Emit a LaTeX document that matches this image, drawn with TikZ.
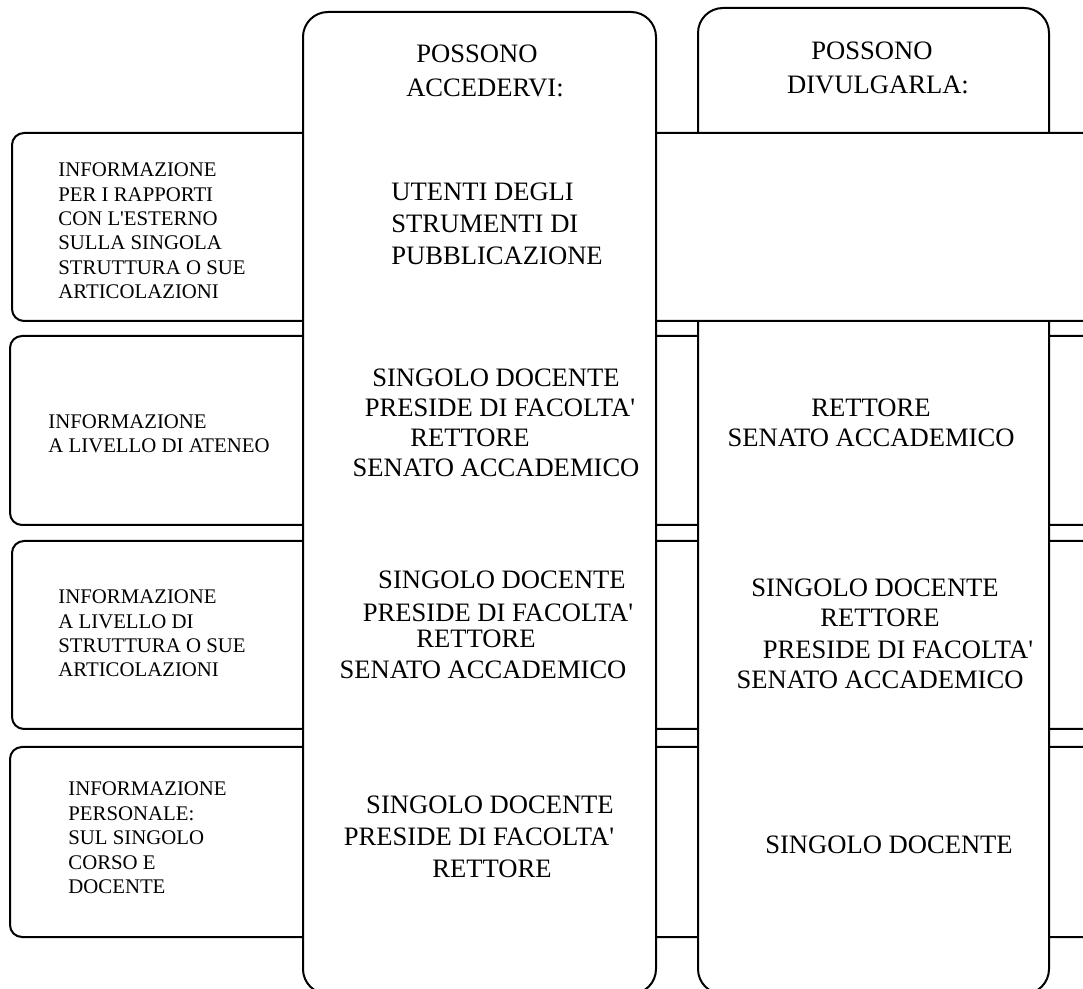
\documentclass[tikz,border=0pt]{standalone}
\usepackage{fontspec}
\setmainfont[Ligatures=TeXOff]{Liberation Serif}
\begin{document}
\begin{tikzpicture}[x=0.5pt,y=-0.5pt,
		box/.style={draw,line width=1pt,fill=white,rounded corners=6pt},
		colbox/.style={box,rounded corners=12.5pt},
		lbl/.style={font=\fontsize{10.4}{12.2}\selectfont,align=left,anchor=west,inner sep=0pt},
		txt/.style={font=\fontsize{13.3}{15}\selectfont,align=center,inner sep=0pt}]
		\useasboundingbox (0,0) rectangle (1083,989);
		\clip (0,0) rectangle (1083,989);
		% rows under the second column
		\draw[box](10,336) rectangle (1120,525);
		\draw[box](12,541) rectangle (1120,729);
		\draw[box](10,747) rectangle (1120,937);
		\draw[colbox](698,8) rectangle (1049,994);
		% first row over the second column
		\draw[box](12,133) rectangle (1120,321);
		\draw[colbox](303,12) rectangle (656,994);
		% row labels
		\node[lbl] (lblEst) at (58,231) {INFORMAZIONE\\PER I RAPPORTI\\CON L'ESTERNO\\SULLA SINGOLA\\STRUTTURA O SUE\\ARTICOLAZIONI};
		\node[lbl] (lblAteneo) at (48,433.5) {INFORMAZIONE\\A LIVELLO DI ATENEO};
		\node[lbl] (lblStrutt) at (58,633.5) {INFORMAZIONE\\A LIVELLO DI\\STRUTTURA O SUE\\ARTICOLAZIONI};
		\node[lbl] (lblPers) at (68,838) {INFORMAZIONE\\PERSONALE:\\SUL SINGOLO\\CORSO E\\DOCENTE};
		% who can access
		\node[txt] (acc0) at (485,71) {\mbox{POSSONO\hspace{8pt}}\\[2pt]ACCEDERVI:};
		\node[txt,align=left,anchor=west] (acc1) at (391,224) {UTENTI DEGLI\\[1pt]STRUMENTI DI\\[1pt]PUBBLICAZIONE};
		\node[txt] (acc2) at (496,422.5) {SINGOLO DOCENTE\\\mbox{\hspace{4pt}PRESIDE DI FACOLTA'}\\\mbox{RETTORE\hspace{26pt}}\\SENATO ACCADEMICO};
		\node[txt] (acc3) at (490,625) {\mbox{\hspace{12pt}SINGOLO DOCENTE}\\[1.5pt]\mbox{\hspace{8pt}PRESIDE DI FACOLTA'}\\[-2pt]\mbox{RETTORE\hspace{14pt}}\\[0.5pt]\mbox{SENATO ACCADEMICO\hspace{7pt}}};
		\node[txt] (acc4) at (487,836.5) {\mbox{\hspace{3pt}SINGOLO DOCENTE}\\[1pt]\mbox{PRESIDE DI FACOLTA'\hspace{8pt}}\\[1pt]\mbox{\hspace{5pt}RETTORE}};
		% who can disclose
		\node[txt] (div0) at (878,68) {\mbox{POSSONO\hspace{6pt}}\\[2pt]DIVULGARLA:};
		\node[txt] (div2) at (871,422.5) {RETTORE\\SENATO ACCADEMICO};
		\node[txt] (div3) at (880,633.5) {\mbox{SINGOLO DOCENTE\hspace{5pt}}\\RETTORE\\[1pt]\mbox{\hspace{18pt}PRESIDE DI FACOLTA'}\\SENATO ACCADEMICO};
		\node[txt] (div4) at (889,845) {SINGOLO DOCENTE};
	    \end{tikzpicture}
\end{document}
